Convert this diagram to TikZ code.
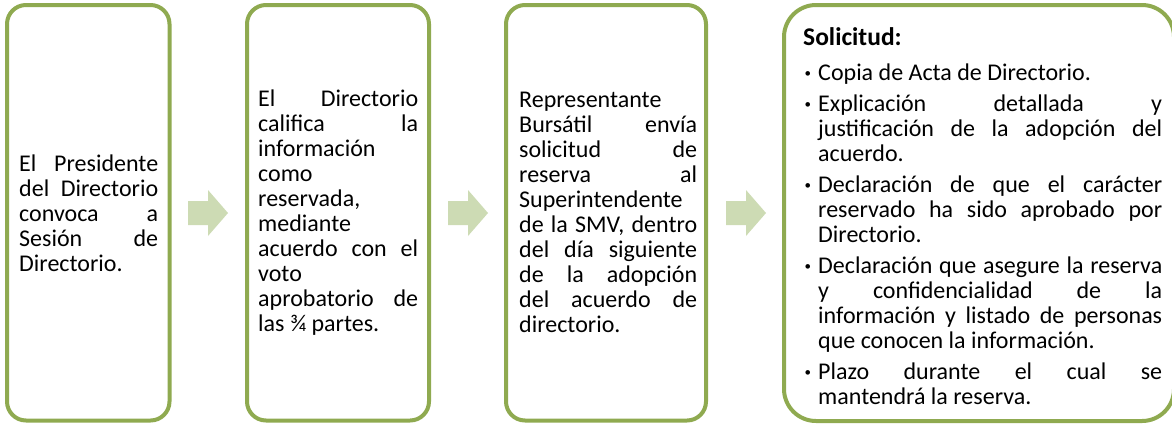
\documentclass[tikz,border=0pt]{standalone}
\usepackage{fontspec}
\setmainfont{Carlito}
\definecolor{boxgreen}{RGB}{143,170,80}
\definecolor{arrowgreen}{RGB}{205,219,180}
\newcommand{\js}[2]{\makebox[#1pt][s]{#2}}
\newcommand{\bl}[1]{\makebox[15pt][l]{\hspace{1.5pt}\raisebox{2.5pt}{\fontsize{13}{13}\selectfont\textbullet}}#1}
\newcommand{\ind}[1]{\hspace*{15pt}#1}
\tikzset{
  stepbox/.style={draw=boxgreen, line width=4pt, fill=white, rounded corners=19pt},
  bigbox/.style={draw=boxgreen, line width=4pt, fill=white, rounded corners=32pt},
  txt/.style={inner sep=0pt, align=left, anchor=west, font=\fontsize{24}{25}\selectfont},
  blockarrow/.style={fill=arrowgreen, draw=none}
}
\newcommand{\blockarrowat}[1]{%
  \fill[blockarrow] (#1) ++(-20,-12) -- ++(20,0) -- ++(0,-11) -- ++(20,23)
    -- ++(-20,23) -- ++(0,-11) -- ++(-20,0) -- cycle;}
\begin{document}
\begin{tikzpicture}[x=1pt,y=-1pt]
\useasboundingbox (0,0) rectangle (1172,424);
\begin{scope}
\clip (0,0) rectangle (1172,424);
\draw[stepbox] (7,5) rectangle (169.5,420.5);
\draw[stepbox] (247,5) rectangle (429,420.5);
\draw[stepbox] (506,5) rectangle (706,420.5);
\draw[bigbox] (784,5) rectangle (1174,421);
\end{scope}
\coordinate (a1) at (208,213);
\coordinate (a2) at (468,213);
\coordinate (a3) at (746,213);
\blockarrowat{a1}
\blockarrowat{a2}
\blockarrowat{a3}
\node[txt] (t1) at (19,213.5) {\js{139}{El Presidente}\\
\js{139}{del Directorio}\\
\js{139}{convoca a}\\
\js{139}{Sesión de}\\
Directorio.};
\node[txt] (t2) at (258,212.5) {\js{160}{El Directorio}\\
\js{160}{califica la}\\
información\\
como\\
reservada,\\
mediante\\
\js{160}{acuerdo con el}\\
voto\\
\js{160}{aprobatorio de}\\
las ¾ partes.};
\node[txt] (t3) at (519,212.5) {Representante\\
\js{178}{Bursátil envía}\\
\js{178}{solicitud de}\\
\js{178}{reserva al}\\
Superintendente\\
\js{178}{de la SMV, dentro}\\
\js{178}{del día siguiente}\\
\js{178}{de la adopción}\\
\js{178}{del acuerdo de}\\
directorio.};
\node[txt] (t4) at (803,216) {{\fontsize{25.5}{25}\selectfont\textbf{Solicitud:}}\\[10pt]
\bl{Copia de Acta de Directorio.}\\[6pt]
\bl{\js{344}{Explicación detallada y}}\\
\ind{\js{344}{justificación de la adopción del}}\\
\ind{acuerdo.}\\[6pt]
\bl{\js{344}{Declaración de que el carácter}}\\
\ind{\js{344}{reservado ha sido aprobado por}}\\
\ind{Directorio.}\\[6pt]
\bl{\js{344}{Declaración que asegure la reserva}}\\
\ind{\js{344}{y confidencialidad de la}}\\
\ind{\js{344}{información y listado de personas}}\\
\ind{que conocen la información.}\\[6pt]
\bl{\js{344}{Plazo durante el cual se}}\\
\ind{mantendrá la reserva.}};
\end{tikzpicture}
\end{document}
